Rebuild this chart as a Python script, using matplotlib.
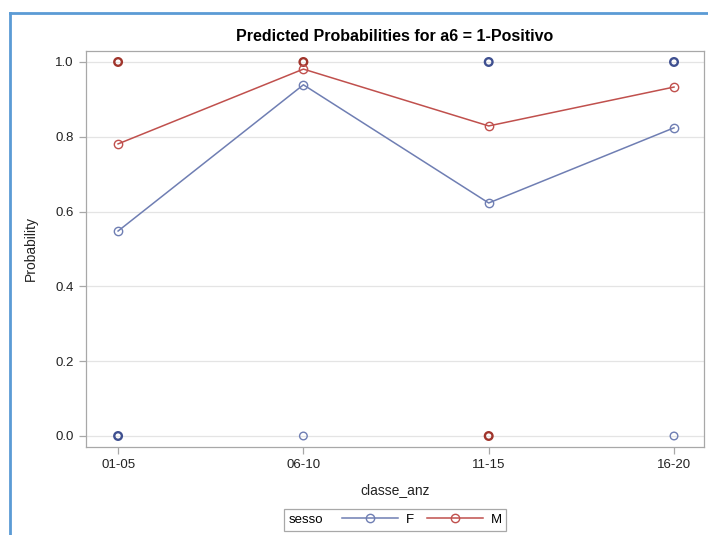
import matplotlib
matplotlib.use("Agg")
import matplotlib.pyplot as plt
from matplotlib.lines import Line2D
from matplotlib.offsetbox import HPacker

plt.rcParams['font.family'] = ['Liberation Sans Narrow', 'Liberation Sans', 'DejaVu Sans']

categories = ['01-05', '06-10', '11-15', '16-20']
pred_F = [0.548, 0.939, 0.623, 0.824]
pred_M = [0.781, 0.981, 0.829, 0.933]
# observed responses (0/1): category, value, group drawn on top, number of overlapping obs groups
obs_cat = ['01-05', '06-10', '11-15', '16-20', '01-05', '06-10', '11-15', '16-20']
obs_val = [1, 1, 1, 1, 0, 0, 0, 0]
obs_top = ['M', 'M', 'F', 'F', 'F', 'F', 'M', 'F']
obs_n = [2, 2, 2, 2, 2, 1, 2, 1]
yticks = [0.0, 0.2, 0.4, 0.6, 0.8, 1.0]

col = {'F': '#6F7EB3', 'M': '#C0504D'}
dark = {'F': '#3F5090', 'M': '#A0352C'}

fig = plt.figure(figsize=(7.08, 5.35), dpi=100)
ax = fig.add_axes([0.1215, 0.1645, 0.8729, 0.7402])

xi = {c: i for i, c in enumerate(categories)}
x = [xi[c] for c in categories]

for c, v, g, n in zip(obs_cat, obs_val, obs_top, obs_n):
    ax.scatter([xi[c]], [v], s=30, facecolors='none',
               edgecolors=dark[g] if n > 1 else col[g],
               linewidths=1.7 if n > 1 else 1.0, zorder=3)

lF, = ax.plot(x, pred_F, color=col['F'], lw=1.1, marker='o', ms=6, mfc='none',
              mec=col['F'], mew=1.0, zorder=4)
lM, = ax.plot(x, pred_M, color=col['M'], lw=1.1, marker='o', ms=6, mfc='none',
              mec=col['M'], mew=1.0, zorder=4)

ax.set_xlim(-0.173, 3.162)
ax.set_ylim(-0.0294, 1.0294)
ax.set_xticks(x)
ax.set_xticklabels(categories)
ax.set_yticks(yticks)
ax.set_yticklabels([f'{v:.1f}' for v in yticks])
ax.yaxis.grid(True, color='#E4E4E4', lw=0.9)
ax.set_axisbelow(True)
for s in ax.spines.values():
    s.set_color('#A8A8A8')
    s.set_linewidth(0.9)
ax.tick_params(axis='both', colors='#A8A8A8', labelcolor='#222222',
               labelsize=9.5, length=5, width=0.9, pad=4)
ax.set_xlabel('classe_anz', fontsize=10, color='#222222', labelpad=8)
ax.set_ylabel('Probability', fontsize=10, color='#222222', labelpad=12)
ax.set_title('Predicted Probabilities for a6 = 1-Positivo', fontsize=11.5,
             fontweight='bold', pad=7)

leg = fig.legend([lF, lM], ['F', 'M'], title='sesso', loc='lower center',
                 bbox_to_anchor=(0.558, -0.004), ncol=2, fontsize=9.5,
                 title_fontsize=9.5, handlelength=4.2, columnspacing=1.0,
                 handletextpad=0.6, borderpad=0.35, fancybox=False,
                 edgecolor='#A8A8A8', framealpha=1)
leg.get_frame().set_linewidth(0.9)
box = leg._legend_box
newbox = HPacker(pad=box.pad, sep=14, align='center',
                 children=[leg._legend_title_box, leg._legend_handle_box])
newbox.set_figure(fig)
newbox.axes = leg.axes
leg._legend_box = newbox
leg._set_loc(leg._loc)

# outer blue frame
fig.add_artist(Line2D([0.0141, 0.0141], [0.0, 0.9757], transform=fig.transFigure,
                      color='#5B9BD5', lw=2))
fig.add_artist(Line2D([0.0141, 1.0], [0.9757, 0.9757], transform=fig.transFigure,
                      color='#5B9BD5', lw=2))

fig.savefig('out.png', dpi=100)
